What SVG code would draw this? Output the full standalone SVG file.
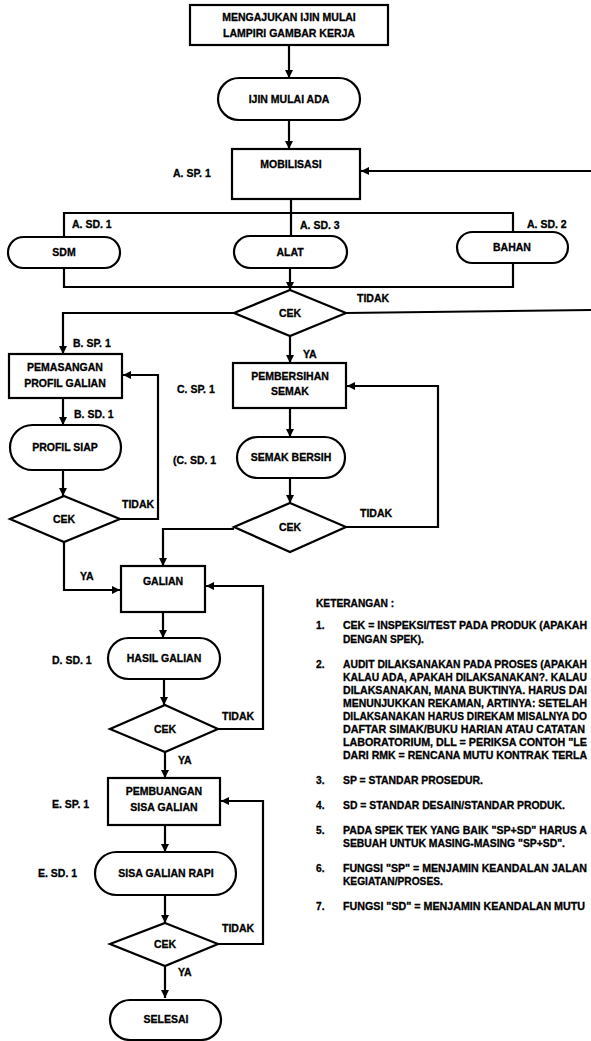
<svg xmlns="http://www.w3.org/2000/svg" width="591" height="1041" viewBox="0 0 591 1041">
  <style>
    .box { fill: #fff; stroke: #000; stroke-width: 2.2; }
    .ln { fill: none; stroke: #000; stroke-width: 2.2; }
    .arr { marker-end: url(#ah); }
    text { font-family: "Liberation Sans", Arial, sans-serif; font-weight: bold; font-size: 10.5px; fill: #000; stroke: #000; stroke-width: 0.3; }
    .c { text-anchor: middle; }
    .k text { font-size: 10.2px; }
    .k text.w { font-size: 10.2px; }
  </style>
  <defs>
    <marker id="ah" markerUnits="userSpaceOnUse" markerWidth="9" markerHeight="9" refX="8" refY="4" orient="auto">
      <path d="M0,0 L8,4 L0,8 z" fill="#000"/>
    </marker>
  </defs>
  <rect width="591" height="1041" fill="#fff"/>

  <!-- connectors -->
  <g id="connectors">
    <path class="ln arr" d="M289,45 V78"/>
    <path class="ln arr" d="M289,120 V149"/>
    <path class="ln arr" d="M591,171 H361"/>
    <!-- mobilisasi distribution bus -->
    <path class="ln" d="M291,199 V236"/>
    <path class="ln" d="M64,237 V213 H513 V232"/>
    <path class="ln" d="M64,268 V287 H513 V263"/>
    <path class="ln arr" d="M290,268 V290"/>
    <path class="ln" d="M346,313 L591,310"/>
    <!-- branch B -->
    <path class="ln arr" d="M234,313 H63 V354"/>
    <path class="ln arr" d="M63,398 V425"/>
    <path class="ln arr" d="M63,470 V496"/>
    <path class="ln arr" d="M120,519 H158 V375 H123"/>
    <path class="ln arr" d="M64,542 V590 H120"/>
    <!-- branch C -->
    <path class="ln arr" d="M290,336 V363"/>
    <path class="ln arr" d="M290,408 V437"/>
    <path class="ln arr" d="M290,478 V503"/>
    <path class="ln arr" d="M346,527 H438 V386 H347"/>
    <path class="ln arr" d="M234,529 H163 V566"/>
    <!-- galian -->
    <path class="ln arr" d="M163,612 V638"/>
    <path class="ln arr" d="M164,679 V705"/>
    <path class="ln arr" d="M218,729 H263 V586 H206"/>
    <path class="ln arr" d="M165,752 V778"/>
    <!-- pembuangan -->
    <path class="ln arr" d="M165,825 V852"/>
    <path class="ln arr" d="M165,895 V923"/>
    <path class="ln arr" d="M218,944 H263 V801 H221"/>
    <path class="ln arr" d="M165,966 V998"/>
  </g>

  <!-- edge labels -->
  <g id="edge-labels">
    <text x="357" y="302">TIDAK</text>
    <text x="122" y="508">TIDAK</text>
    <text x="80" y="580">YA</text>
    <text x="303" y="358">YA</text>
    <text x="360" y="517">TIDAK</text>
    <text x="222" y="720">TIDAK</text>
    <text x="178" y="764">YA</text>
    <text x="222" y="932">TIDAK</text>
    <text x="178" y="976">YA</text>
  </g>

  <g id="n-ijin">
    <rect class="box" x="190" y="5" width="198" height="40"/>
    <text class="c" x="289" y="21">MENGAJUKAN IJIN MULAI</text>
    <text class="c" x="289" y="37">LAMPIRI GAMBAR KERJA</text>
  </g>
  <g id="n-ijin-ada">
    <rect class="box" x="218" y="78" width="142" height="42" rx="21"/>
    <text class="c" x="289" y="103">IJIN MULAI ADA</text>
  </g>
  <g id="n-mobilisasi">
    <rect class="box" x="232" y="149" width="128" height="50"/>
    <text class="c" x="291" y="168">MOBILISASI</text>
    <text x="173" y="177">A. SP. 1</text>
  </g>
  <g id="n-sdm">
    <rect class="box" x="8" y="237" width="112" height="31" rx="15.5"/>
    <text class="c" x="64" y="256">SDM</text>
    <text x="72" y="228">A. SD. 1</text>
  </g>
  <g id="n-alat">
    <rect class="box" x="234" y="236" width="113" height="32" rx="16"/>
    <text class="c" x="290" y="256">ALAT</text>
    <text x="300" y="229">A. SD. 3</text>
  </g>
  <g id="n-bahan">
    <rect class="box" x="457" y="232" width="111" height="31" rx="15.5"/>
    <text class="c" x="512" y="251">BAHAN</text>
    <text x="527" y="228">A. SD. 2</text>
  </g>
  <g id="n-cek-a">
    <polygon class="box" points="290,290 346,313 290,336 234,313"/>
    <text class="c" x="290" y="317">CEK</text>
  </g>

  <g id="n-pemasangan">
    <rect class="box" x="9" y="354" width="113" height="44"/>
    <text class="c" x="65" y="371">PEMASANGAN</text>
    <text class="c" x="65" y="387">PROFIL GALIAN</text>
    <text x="73" y="347">B. SP. 1</text>
  </g>
  <g id="n-profil-siap">
    <rect class="box" x="10" y="425" width="111" height="45" rx="22.5"/>
    <text class="c" x="65" y="451">PROFIL SIAP</text>
    <text x="74" y="418">B. SD. 1</text>
  </g>
  <g id="n-cek-b">
    <polygon class="box" points="64,496 120,519 64,542 10,519"/>
    <text class="c" x="64" y="523">CEK</text>
  </g>

  <g id="n-pembersihan">
    <rect class="box" x="233" y="363" width="113" height="45"/>
    <text class="c" x="290" y="380">PEMBERSIHAN</text>
    <text class="c" x="290" y="395">SEMAK</text>
    <text x="177" y="393">C. SP. 1</text>
  </g>
  <g id="n-semak-bersih">
    <rect class="box" x="237" y="437" width="108" height="41" rx="20.5"/>
    <text class="c" x="291" y="461">SEMAK BERSIH</text>
    <text x="173" y="464">(C. SD. 1</text>
  </g>
  <g id="n-cek-c">
    <polygon class="box" points="290,503 346,527 290,552 234,527"/>
    <text class="c" x="290" y="531">CEK</text>
  </g>

  <g id="n-galian">
    <rect class="box" x="121" y="566" width="84" height="46"/>
    <text class="c" x="163" y="585">GALIAN</text>
  </g>
  <g id="n-hasil-galian">
    <rect class="box" x="108" y="638" width="112" height="41" rx="20.5"/>
    <text class="c" x="164" y="662">HASIL GALIAN</text>
    <text x="52" y="664">D. SD. 1</text>
  </g>
  <g id="n-cek-d">
    <polygon class="box" points="165,705 218,729 165,752 110,729"/>
    <text class="c" x="165" y="733">CEK</text>
  </g>

  <g id="n-pembuangan">
    <rect class="box" x="108" y="778" width="112" height="47"/>
    <text class="c" x="164" y="795">PEMBUANGAN</text>
    <text class="c" x="164" y="811">SISA GALIAN</text>
    <text x="52" y="808">E. SP. 1</text>
  </g>
  <g id="n-sisa-rapi">
    <rect class="box" x="95" y="852" width="141" height="43" rx="21.5"/>
    <text class="c" x="166" y="877">SISA GALIAN RAPI</text>
    <text x="38" y="877">E. SD. 1</text>
  </g>
  <g id="n-cek-e">
    <polygon class="box" points="165,923 218,944 165,966 110,944"/>
    <text class="c" x="165" y="948">CEK</text>
  </g>
  <g id="n-selesai">
    <rect class="box" x="110" y="1000" width="111" height="40" rx="20"/>
    <text class="c" x="166" y="1023">SELESAI</text>
  </g>

  <!-- notes block; long lines are fitted to run up to the right margin -->
  <g id="keterangan" class="k">
    <text x="316" y="607">KETERANGAN :</text>
    <text x="316" y="629">1.</text>
    <text class="w" x="343" y="629" textLength="244" lengthAdjust="spacingAndGlyphs">CEK = INSPEKSI/TEST PADA PRODUK (APAKAH</text>
    <text x="343" y="643">DENGAN SPEK).</text>
    <text x="316" y="668">2.</text>
    <text class="w" x="343" y="668" textLength="244" lengthAdjust="spacingAndGlyphs">AUDIT DILAKSANAKAN PADA PROSES (APAKAH</text>
    <text class="w" x="343" y="681" textLength="244" lengthAdjust="spacingAndGlyphs">KALAU ADA, APAKAH DILAKSANAKAN?. KALAU</text>
    <text class="w" x="343" y="694" textLength="244" lengthAdjust="spacingAndGlyphs">DILAKSANAKAN, MANA BUKTINYA. HARUS DAI</text>
    <text class="w" x="343" y="707" textLength="244" lengthAdjust="spacingAndGlyphs">MENUNJUKKAN REKAMAN, ARTINYA: SETELAH</text>
    <text class="w" x="343" y="720" textLength="244" lengthAdjust="spacingAndGlyphs">DILAKSANAKAN HARUS DIREKAM MISALNYA DO</text>
    <text class="w" x="343" y="733" textLength="242" lengthAdjust="spacingAndGlyphs">DAFTAR SIMAK/BUKU HARIAN ATAU CATATAN</text>
    <text class="w" x="343" y="746" textLength="244" lengthAdjust="spacingAndGlyphs">LABORATORIUM, DLL = PERIKSA CONTOH "LE</text>
    <text class="w" x="343" y="759" textLength="244" lengthAdjust="spacingAndGlyphs">DARI RMK = RENCANA MUTU KONTRAK TERLA</text>
    <text x="316" y="784">3.</text>
    <text x="343" y="784" textLength="140" lengthAdjust="spacingAndGlyphs">SP = STANDAR PROSEDUR.</text>
    <text x="316" y="809">4.</text>
    <text x="343" y="809" textLength="222" lengthAdjust="spacingAndGlyphs">SD = STANDAR DESAIN/STANDAR PRODUK.</text>
    <text x="316" y="834">5.</text>
    <text class="w" x="343" y="834" textLength="244" lengthAdjust="spacingAndGlyphs">PADA SPEK TEK YANG BAIK "SP+SD" HARUS A</text>
    <text x="343" y="847" textLength="222" lengthAdjust="spacingAndGlyphs">SEBUAH UNTUK MASING-MASING "SP+SD".</text>
    <text x="316" y="872">6.</text>
    <text class="w" x="343" y="872" textLength="244" lengthAdjust="spacingAndGlyphs">FUNGSI "SP" = MENJAMIN KEANDALAN JALAN</text>
    <text x="343" y="885">KEGIATAN/PROSES.</text>
    <text x="316" y="910">7.</text>
    <text x="343" y="910" textLength="242" lengthAdjust="spacingAndGlyphs">FUNGSI "SD" = MENJAMIN KEANDALAN MUTU</text>
  </g>
</svg>
